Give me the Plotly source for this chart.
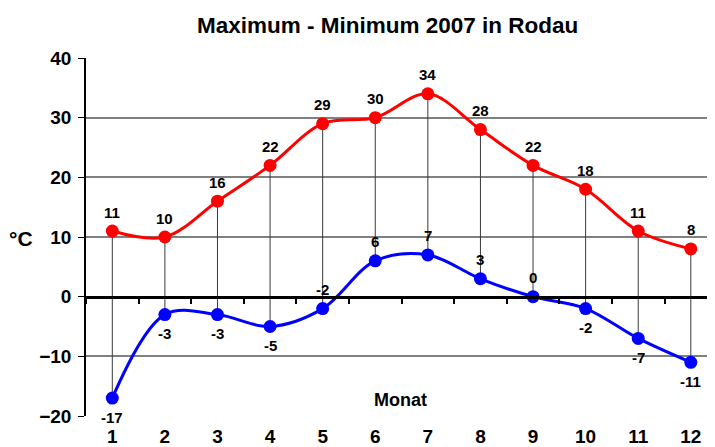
import plotly.graph_objects as go

months = [1, 2, 3, 4, 5, 6, 7, 8, 9, 10, 11, 12]
max_vals = [11, 10, 16, 22, 29, 30, 34, 28, 22, 18, 11, 8]
min_vals = [-17, -3, -3, -5, -2, 6, 7, 3, 0, -2, -7, -11]
min_label_side = [-1, -1, -1, -1, 1, 1, 1, 1, 1, -1, -1, -1]
y_ticks = [-20, -10, 0, 10, 20, 30, 40]

FONT = "Liberation Sans, Arial, sans-serif"

fig = go.Figure()

# hi-lo vertical lines
hx, hy = [], []
for m, a, b in zip(months, max_vals, min_vals):
    hx += [m, m, None]
    hy += [a, b, None]
fig.add_trace(go.Scatter(x=hx, y=hy, mode="lines",
                         line=dict(color="#3a3a3a", width=1),
                         hoverinfo="skip", showlegend=False))

fig.add_trace(go.Scatter(x=months, y=max_vals, mode="lines+markers",
                         line=dict(color="#FF0000", width=3, shape="spline", smoothing=1),
                         marker=dict(color="#FF0000", size=13),
                         showlegend=False, name="Maximum"))
fig.add_trace(go.Scatter(x=months, y=min_vals, mode="lines+markers",
                         line=dict(color="#0000FF", width=3, shape="spline", smoothing=1),
                         marker=dict(color="#0000FF", size=13),
                         showlegend=False, name="Minimum"))

# zero axis with category-boundary ticks (overlay axis)
fig.add_trace(go.Scatter(x=[months[0]], y=[0], xaxis="x2", mode="markers",
                         marker=dict(opacity=0), hoverinfo="skip", showlegend=False))

LBL = dict(family=FONT, size=15, color="black", weight="bold")
annotations = []
for m, v in zip(months, max_vals):
    annotations.append(dict(x=m, y=v, text=str(v), showarrow=False, yshift=19, font=LBL))
for m, v, s in zip(months, min_vals, min_label_side):
    annotations.append(dict(x=m, y=v, text=str(v), showarrow=False, yshift=19 * s, font=LBL))
annotations.append(dict(xref="paper", yref="y", x=-0.103, y=9.8, text="°C", showarrow=False,
                        xanchor="center", yanchor="middle",
                        font=dict(family=FONT, size=21, color="black", weight="bold")))
annotations.append(dict(xref="paper", yref="y", x=0.5, y=-17.3, text="Monat", showarrow=False,
                        xanchor="center", yanchor="middle",
                        font=dict(family=FONT, size=18, color="black", weight="bold")))

# page body adds an 8px offset, so the figure is sized to fill the window from there
fig.update_layout(
    width=707, height=439,
    margin=dict(l=78, r=0, t=50, b=31, autoexpand=False),
    paper_bgcolor="white", plot_bgcolor="white",
    title=dict(text="Maximum - Minimum 2007 in Rodau", x=0.537, xanchor="center",
               y=0.962, yanchor="middle",
               font=dict(family=FONT, size=22.5, color="black", weight="bold")),
    annotations=annotations,
    shapes=[dict(type="line", xref="paper", yref="y", x0=0, x1=1, y0=10, y1=10,
                 line=dict(color="black", width=1), layer="below")],
    xaxis=dict(range=[0.5, 12.46], tickmode="array", tickvals=months,
               ticktext=[str(m) for m in months], showgrid=False, zeroline=False,
               showline=False, ticks="", ticklabelstandoff=7, automargin=False,
               tickfont=dict(family=FONT, size=19, color="black", weight="bold")),
    xaxis2=dict(range=[0.5, 12.46], overlaying="x", anchor="free", position=1/3,
                showline=True, linecolor="black", linewidth=3, automargin=False,
                tickmode="array", tickvals=[m + 0.5 for m in months[:-1]] + [0.5],
                ticks="outside", ticklen=5, tickwidth=2, tickcolor="black",
                showticklabels=False, showgrid=False, zeroline=False),
    yaxis=dict(range=[-20, 40], tickmode="array", tickvals=y_ticks,
               showgrid=True, gridcolor="#808080", gridwidth=1.5, automargin=False,
               zeroline=False, showline=True, linecolor="black", linewidth=1.5,
               ticks="outside", ticklen=6, tickcolor="black", tickwidth=1,
               ticklabelstandoff=3,
               tickfont=dict(family=FONT, size=19, color="black", weight="bold")),
)

fig.write_html("out.html")
